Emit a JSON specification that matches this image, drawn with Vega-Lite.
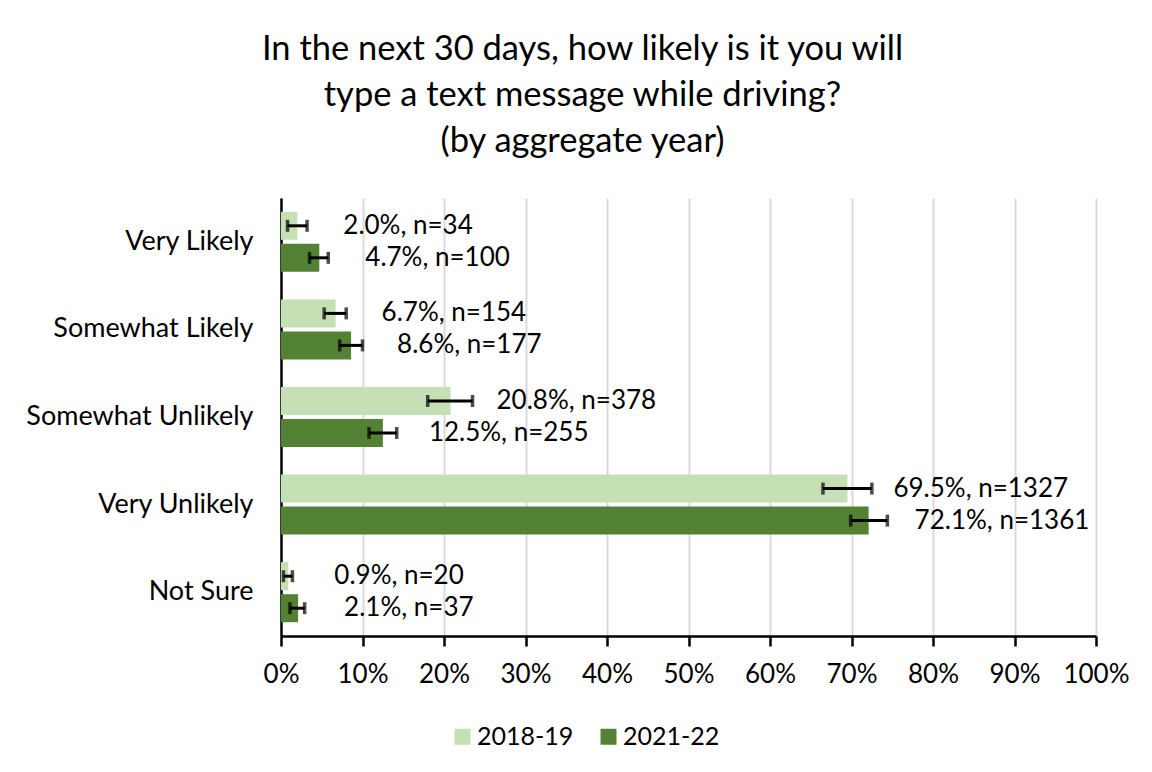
{
  "$schema": "https://vega.github.io/schema/vega-lite/v6.json",
  "autosize": "none",
  "width": 815,
  "height": 438,
  "padding": {"left": 281, "top": 198, "right": 56, "bottom": 136},
  "background": "white",
  "title": {
    "text": ["In the next 30 days, how likely is it you will", "type a text message while driving?", "(by aggregate year)"],
    "font": "Lato",
    "fontSize": 34.5,
    "fontWeight": "normal",
    "color": "#000000",
    "lineHeight": 46,
    "anchor": "middle",
    "frame": "group",
    "dx": -106,
    "offset": 39
  },
  "data": {
    "values": [
      {"cat": "Very Likely", "year": "2018-19", "pct": 2.0, "lo": 0.8, "hi": 3.2, "label": "2.0%, n=34"},
      {"cat": "Very Likely", "year": "2021-22", "pct": 4.7, "lo": 3.5, "hi": 5.8, "label": "4.7%, n=100"},
      {"cat": "Somewhat Likely", "year": "2018-19", "pct": 6.7, "lo": 5.3, "hi": 8.0, "label": "6.7%, n=154"},
      {"cat": "Somewhat Likely", "year": "2021-22", "pct": 8.6, "lo": 7.2, "hi": 10.0, "label": "8.6%, n=177"},
      {"cat": "Somewhat Unlikely", "year": "2018-19", "pct": 20.8, "lo": 18.0, "hi": 23.5, "label": "20.8%, n=378"},
      {"cat": "Somewhat Unlikely", "year": "2021-22", "pct": 12.5, "lo": 10.8, "hi": 14.2, "label": "12.5%, n=255"},
      {"cat": "Very Unlikely", "year": "2018-19", "pct": 69.5, "lo": 66.5, "hi": 72.5, "label": "69.5%, n=1327"},
      {"cat": "Very Unlikely", "year": "2021-22", "pct": 72.1, "lo": 69.9, "hi": 74.4, "label": "72.1%, n=1361"},
      {"cat": "Not Sure", "year": "2018-19", "pct": 0.9, "lo": 0.3, "hi": 1.4, "label": "0.9%, n=20"},
      {"cat": "Not Sure", "year": "2021-22", "pct": 2.1, "lo": 1.1, "hi": 2.9, "label": "2.1%, n=37"}
    ]
  },
  "encoding": {
    "y": {
      "field": "cat",
      "type": "nominal",
      "sort": ["Very Likely", "Somewhat Likely", "Somewhat Unlikely", "Very Unlikely", "Not Sure"],
      "scale": {"paddingInner": 0.315, "paddingOuter": 0.1575},
      "axis": {
        "title": null,
        "ticks": false,
        "domainColor": "#000000",
        "domainWidth": 2.5,
        "labelFont": "Lato",
        "labelFontSize": 27,
        "labelColor": "#000000",
        "labelPadding": 28,
        "labelLimit": 400,
        "grid": false
      }
    },
    "yOffset": {
      "field": "year",
      "type": "nominal",
      "sort": ["2018-19", "2021-22"],
      "scale": {"paddingInner": 0.125, "paddingOuter": 0}
    }
  },
  "layer": [
    {
      "mark": {"type": "bar"},
      "encoding": {
        "x": {
          "field": "pct",
          "type": "quantitative",
          "scale": {"domain": [0, 100], "nice": false},
          "axis": {
            "title": null,
            "values": [0, 10, 20, 30, 40, 50, 60, 70, 80, 90, 100],
            "labelExpr": "datum.value + '%'",
            "labelFont": "Lato",
            "labelFontSize": 26,
            "labelColor": "#000000",
            "labelPadding": 15,
            "labelFlush": false,
            "labelOverlap": false,
            "domainColor": "#000000",
            "domainWidth": 2.5,
            "tickColor": "#000000",
            "tickWidth": 2.5,
            "tickSize": 10,
            "grid": true,
            "gridColor": "#D9D9D9",
            "gridWidth": 2
          }
        },
        "color": {
          "field": "year",
          "type": "nominal",
          "scale": {"domain": ["2018-19", "2021-22"], "range": ["#C5E0B4", "#548235"]},
          "legend": {
            "title": null,
            "orient": "none",
            "direction": "horizontal",
            "legendX": 169,
            "legendY": 526,
            "symbolType": "square",
            "symbolSize": 256,
            "symbolStrokeWidth": 0,
            "symbolOpacity": 1,
            "labelFont": "Lato",
            "labelFontSize": 25,
            "labelColor": "#000000",
            "labelOffset": 2,
            "columnPadding": 22
          }
        }
      }
    },
    {
      "mark": {"type": "rule", "color": "#000000", "strokeWidth": 3},
      "encoding": {
        "x": {"field": "lo", "type": "quantitative"},
        "x2": {"field": "hi"}
      }
    },
    {
      "mark": {"type": "tick", "color": "#000000", "thickness": 3.5, "size": 12, "orient": "vertical"},
      "encoding": {"x": {"field": "lo", "type": "quantitative"}}
    },
    {
      "mark": {"type": "tick", "color": "#000000", "thickness": 3.5, "size": 12, "orient": "vertical"},
      "encoding": {"x": {"field": "hi", "type": "quantitative"}}
    },
    {
      "mark": {"type": "text", "align": "left", "baseline": "middle", "dx": 46, "font": "Lato", "fontSize": 26, "color": "#000000"},
      "encoding": {
        "x": {"field": "pct", "type": "quantitative"},
        "text": {"field": "label"}
      }
    }
  ],
  "config": {
    "view": {"stroke": null}
  }
}
